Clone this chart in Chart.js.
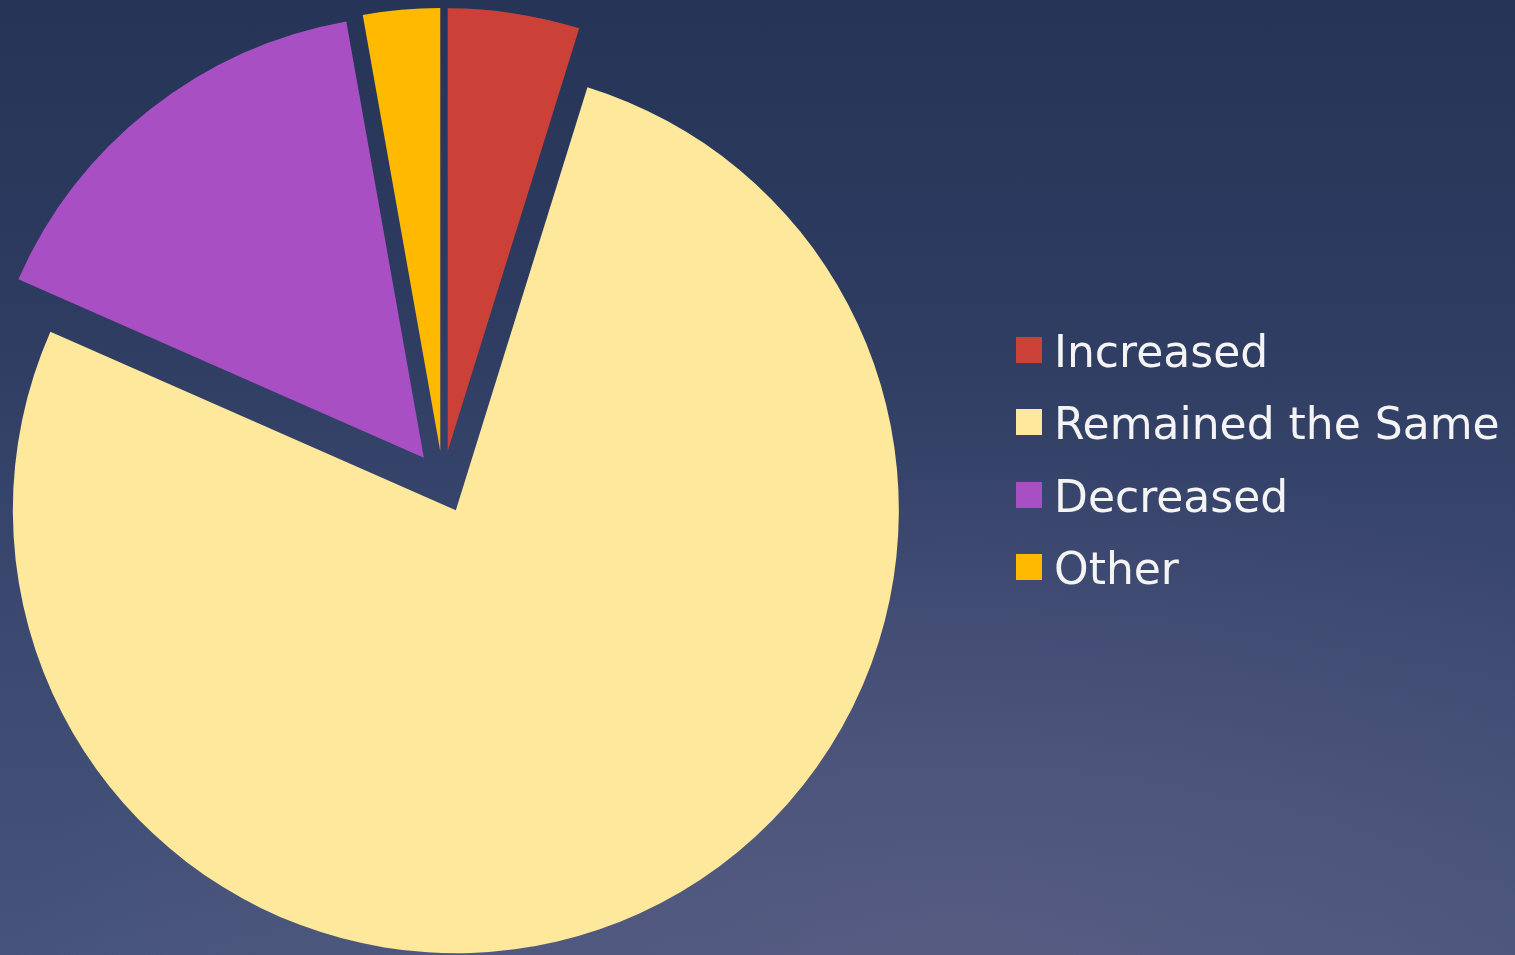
<!DOCTYPE html>
<html>
<head>
<meta charset="utf-8">
<title>Pie chart</title>
<script src="https://cdn.jsdelivr.net/npm/chart.js@4.4.1/dist/chart.umd.min.js"></script>
<style>
  html, body { margin: 0; padding: 0; width: 1515px; height: 955px; overflow: hidden; }
  body {
    background:
      radial-gradient(ellipse 950px 560px at 960px 1010px, rgba(100, 98, 136, 0.6) 0%, rgba(100, 98, 136, 0) 100%),
      linear-gradient(to bottom, #263457 0%, #2d3b60 30%, #3a476f 62%, #46547b 100%);
  }
  #chart { position: absolute; left: 0; top: 0; }
  #legend { position: absolute; left: 1016px; top: 337px; font-family: "DejaVu Sans", sans-serif; color: #f4f4f4; }
  .row { position: absolute; left: 0; height: 26px; white-space: nowrap; }
  .box { position: absolute; left: 0; top: 0; width: 26px; height: 26px; }
  .txt { position: absolute; left: 38px; top: 2px; font-size: 44px; line-height: 26px; }
</style>
</head>
<body>
<canvas id="chart" width="1515" height="955"></canvas>
<div id="legend"></div>
<script>
// data (share of answers, %)
const labels = ["Increased", "Remained the Same", "Decreased", "Other"]
const values = [4.8, 76.8, 15.6, 2.8]
const colors = ["#cc4137", "#fde89b", "#a74fc3", "#ffba00"]

// every slice is pulled out of the pie by the same distance
const pull_out = 31

const explode_plugin = {
    id: "explode",
    beforeDatasetsDraw(chart) {
        const area = chart.chartArea
        const cx = (area.left + area.right) / 2
        const cy = (area.top + area.bottom) / 2
        chart.getDatasetMeta(0).data.forEach(arc => {
            const mid = (arc.startAngle + arc.endAngle) / 2
            arc.x = cx + Math.cos(mid) * pull_out
            arc.y = cy + Math.sin(mid) * pull_out
        })
    }
}

function build_legend() {
    const legend = document.querySelector("#legend")
    labels.forEach((label, i) => {
        const row = document.createElement("div")
        row.className = "row"
        row.style.top = `${Math.round(i * 72.3)}px`
        const box = document.createElement("div")
        box.className = "box"
        box.style.background = colors[i]
        const txt = document.createElement("div")
        txt.className = "txt"
        txt.textContent = label
        row.append(box)
        row.append(txt)
        legend.append(row)
    })
}

new Chart(document.querySelector("#chart"), {
    type: "pie",
    data: {
        labels: labels,
        datasets: [{
            data: values,
            backgroundColor: colors,
            borderWidth: 0,
            clip: false
        }]
    },
    options: {
        responsive: false,
        animation: false,
        radius: 443,
        layout: { padding: { left: 0, right: 629, top: 9, bottom: 0 } },
        plugins: {
            legend: { display: false },
            tooltip: { enabled: false }
        }
    },
    plugins: [explode_plugin]
})

build_legend()
</script>
</body>
</html>
